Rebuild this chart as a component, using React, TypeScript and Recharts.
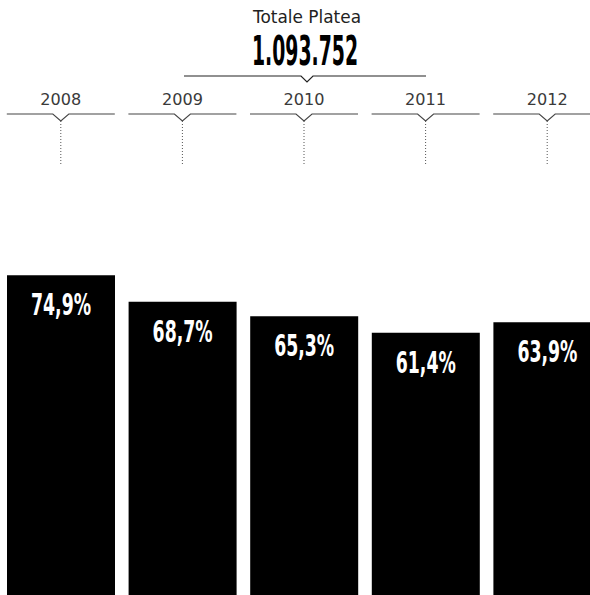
import React from 'react';
import { BarChart, Bar, XAxis, YAxis, LabelList } from 'recharts';

const years = ['2008', '2009', '2010', '2011', '2012'];
const shares = [74.9, 68.7, 65.3, 61.4, 63.9];
const totalTitle = 'Totale Platea';
const totalValue = '1.093.752';
const totalYear = '2010';

const data = years.map((year, i) => ({ year, share: shares[i] }));

const fmt = (v: number) => v.toFixed(1).replace('.', ',') + '%';

const YearTick = (props: any) => {
  const { x, payload } = props;
  const c = x;
  const isTotal = payload.value === totalYear;
  return (
    <g>
      {isTotal && (
        <g>
          <text x={c + 3} y={23} textAnchor="middle" fontFamily="'DejaVu Sans'" fontSize={17}
            fill="#222" textLength={108} lengthAdjust="spacingAndGlyphs">{totalTitle}</text>
          <text x={c + 1} y={65} textAnchor="middle" fontFamily="'DejaVu Sans Condensed'" fontWeight="bold"
            fontSize={41} fill="#000" textLength={106} lengthAdjust="spacingAndGlyphs">{totalValue}</text>
          <path d={`M${c - 120},76 H${c - 3} L${c + 3},82 L${c + 9},76 H${c + 122}`}
            stroke="#222" strokeWidth={1.2} fill="none" />
        </g>
      )}
      <text x={c} y={105} textAnchor="middle" fontFamily="'DejaVu Sans'" fontSize={15}
        fill="#3a3a3a" textLength={41} lengthAdjust="spacingAndGlyphs">{payload.value}</text>
      <path d={`M${c - 54},114 H${c - 8} L${c},121 L${c + 8},114 H${c + 54}`}
        stroke="#444" strokeWidth={1.1} fill="none" />
      <line x1={c} y1={121} x2={c} y2={166} stroke="#555" strokeWidth={1} strokeDasharray="1 2" />
    </g>
  );
};

const BarValue = (props: any) => {
  const { x, y, width, value } = props;
  return (
    <g transform={`translate(${x + width / 2},${y + 40}) scale(1,1.45)`}>
      <text x={0} y={0} textAnchor="middle" fontFamily="'DejaVu Sans Condensed'"
        fontWeight="bold" fontSize={21} fill="#fff" textLength={60} lengthAdjust="spacingAndGlyphs">
        {fmt(value)}
      </text>
    </g>
  );
};

export default function App() {
  return (
    <div style={{ position: 'absolute', left: 0, top: 0, width: 590, height: 595, overflow: 'hidden', background: '#fff' }}>
      <BarChart width={608} height={595} data={data} margin={{ top: 0, right: 0, bottom: 0, left: 0 }}>
        <XAxis dataKey="year" orientation="top" height={168} axisLine={false} tickLine={false}
          tick={<YearTick />} interval={0} />
        <YAxis hide domain={[0, 100]} />
        <Bar dataKey="share" fill="#000" barSize={108} isAnimationActive={false}>
          <LabelList dataKey="share" content={<BarValue />} />
        </Bar>
      </BarChart>
    </div>
  );
}
